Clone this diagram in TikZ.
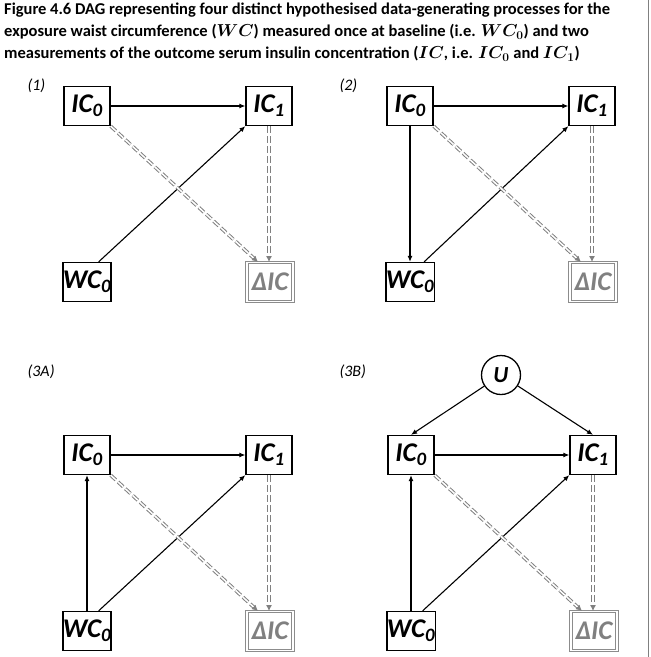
\documentclass[tikz,border=0pt]{standalone}
\usepackage{fontspec}
\setmainfont{Carlito}
\usetikzlibrary{arrows.meta}
\begin{document}
\begin{tikzpicture}[x=1pt,y=-1pt,
  var/.style={draw,line width=1.3pt,minimum width=46pt,minimum height=39pt,inner sep=0pt,
    font=\fontsize{27}{27}\selectfont\bfseries\itshape},
  chg/.style={var,draw=gray!90,text=gray,double=white,double distance=1.4pt,line width=0.9pt},
  latent/.style={circle,draw,line width=1.3pt,minimum size=39pt,inner sep=0pt,
    font=\fontsize{23}{23}\selectfont\bfseries\itshape},
  cause/.style={-{Latex[length=6pt,width=5pt]},line width=1.1pt},
  diff/.style={draw=gray,double=white,double distance=1.5pt,line width=1pt,
    dash pattern=on 7pt off 3pt,-{Latex[length=6pt,width=6pt]}},
  panel/.style={anchor=west,font=\fontsize{16}{16}\selectfont\itshape}]
\pgfmathsetmacro{\dx}{182}
\pgfmathsetmacro{\dy}{176}
\useasboundingbox (0,0) rectangle (651,657);
\draw[gray,line width=1pt] (648,0) -- (648,657);
\node[anchor=north west,align=left,inner sep=0pt,
  font=\fontsize{16.5}{22}\selectfont\bfseries\boldmath] (title) at (4,3)
  {Figure 4.6 DAG representing four distinct hypothesised data-generating processes for the\\
   exposure waist circumference ($WC$) measured once at baseline (i.e. $WC_0$) and two\\
   measurements of the outcome serum insulin concentration ($IC$, i.e. $IC_0$ and $IC_1$)};
% (1)
\node[panel] (lab1) at (24,86) {(1)};
\begin{scope}[shift={(87,106)}]
\node[var] (a-ic0) at (0,0) {IC\textsubscript{0}};
\node[var] (a-ic1) at (\dx,0) {IC\textsubscript{1}};
\node[var] (a-wc0) at (0,\dy) {WC\textsubscript{0}};
\node[chg] (a-dic) at (\dx+1,\dy) {ΔIC};
\draw[cause] (a-ic0) -- (a-ic1);
\draw[cause] (a-wc0.60) -- (a-ic1.south west);
\draw[diff] (a-ic0.south east) -- ([xshift=-12pt]a-dic.north);
\draw[diff] (a-ic1.south) -- (a-ic1.south |- a-dic.north);
\end{scope}
% (2)
\node[panel] (lab2) at (336,86) {(2)};
\begin{scope}[shift={(410,106)}]
\node[var] (b-ic0) at (0,0) {IC\textsubscript{0}};
\node[var] (b-ic1) at (\dx,0) {IC\textsubscript{1}};
\node[var] (b-wc0) at (0,\dy) {WC\textsubscript{0}};
\node[chg] (b-dic) at (\dx+1,\dy) {ΔIC};
\draw[cause] (b-ic0) -- (b-ic1);
\draw[cause] (b-ic0) -- (b-wc0);
\draw[cause] (b-wc0.55) -- (b-ic1.south west);
\draw[diff] (b-ic0.south east) -- ([xshift=-12pt]b-dic.north);
\draw[diff] (b-ic1.south) -- (b-ic1.south |- b-dic.north);
\end{scope}
% (3A)
\node[panel] (lab3a) at (24,372) {(3A)};
\begin{scope}[shift={(87,455)}]
\node[var] (c-ic0) at (0,0) {IC\textsubscript{0}};
\node[var] (c-ic1) at (\dx,0) {IC\textsubscript{1}};
\node[var] (c-wc0) at (0,\dy) {WC\textsubscript{0}};
\node[chg] (c-dic) at (\dx+1,\dy) {ΔIC};
\draw[cause] (c-ic0) -- (c-ic1);
\draw[cause] (c-wc0) -- (c-ic0);
\draw[cause] (c-wc0.60) -- (c-ic1.south west);
\draw[diff] (c-ic0.south east) -- ([xshift=-12pt]c-dic.north);
\draw[diff] (c-ic1.south) -- (c-ic1.south |- c-dic.north);
\end{scope}
% (3B)
\node[panel] (lab3b) at (336,372) {(3B)};
\begin{scope}[shift={(411,455)}]
\node[latent] (d-u) at (90,-80) {U};
\node[var] (d-ic0) at (0,0) {IC\textsubscript{0}};
\node[var] (d-ic1) at (\dx,0) {IC\textsubscript{1}};
\node[var] (d-wc0) at (0,\dy) {WC\textsubscript{0}};
\node[chg] (d-dic) at (\dx+1,\dy) {ΔIC};
\draw[cause] (d-u) -- (d-ic0.north);
\draw[cause] (d-u) -- (d-ic1.north);
\draw[cause] (d-ic0) -- (d-ic1);
\draw[cause] (d-wc0) -- (d-ic0);
\draw[cause] (d-wc0.60) -- (d-ic1.south west);
\draw[diff] (d-ic0.south east) -- ([xshift=-12pt]d-dic.north);
\draw[diff] (d-ic1.south) -- (d-ic1.south |- d-dic.north);
\end{scope}
\end{tikzpicture}
\end{document}
